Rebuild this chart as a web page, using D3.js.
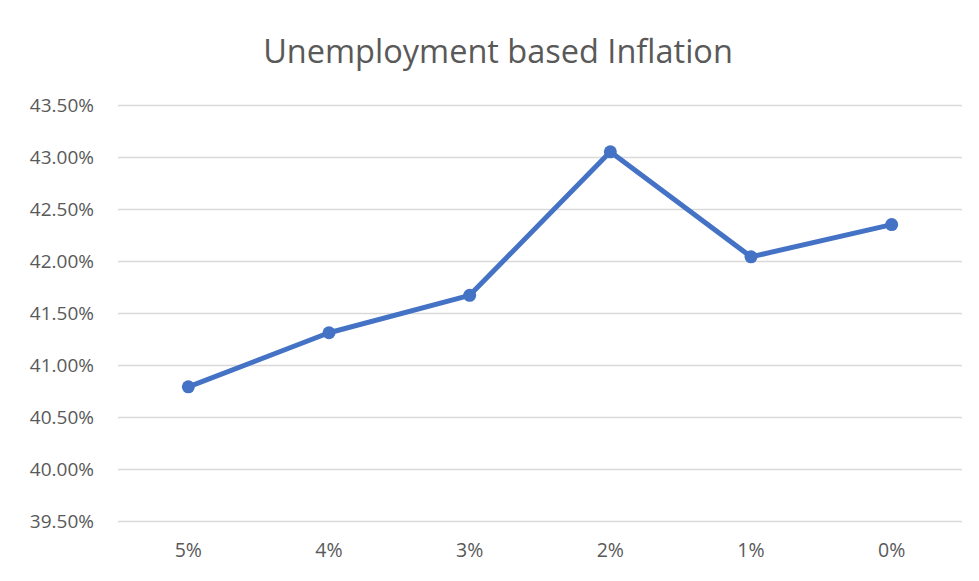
<!DOCTYPE html>
<html lang="en">
<head>
    <meta charset="UTF-8">
    <title>Unemployment based Inflation</title>
    <script src="https://cdn.jsdelivr.net/npm/d3@7/dist/d3.min.js"></script>
    <style>
        body { margin: 0; background: #fff; }
        text { font-family: "Open Sans", "Noto Sans", sans-serif; fill: #595959; }
    </style>
</head>
<body>
    <div id="chart"></div>
    <script>
        // data
        const categories = ["5%", "4%", "3%", "2%", "1%", "0%"];
        const inflation = [40.79, 41.31, 41.67, 43.05, 42.04, 42.35];
        const yTicks = [39.5, 40.0, 40.5, 41.0, 41.5, 42.0, 42.5, 43.0, 43.5];

        const width = 979, height = 581;
        const margin = { top: 105, right: 17, bottom: 60, left: 118 };

        const svg = d3.select("#chart")
            .append("svg")
            .attr("width", width)
            .attr("height", height);

        const x = d3.scaleBand()
            .domain(categories)
            .range([margin.left, width - margin.right]);

        const y = d3.scaleLinear()
            .domain([39.5, 43.5])
            .range([height - margin.bottom, margin.top]);

        // title
        svg.append("text")
            .attr("x", 498)
            .attr("y", 63)
            .attr("text-anchor", "middle")
            .style("font-size", "32.5px")
            .text("Unemployment based Inflation");

        // gridlines + y labels
        const yAxis = d3.axisLeft(y)
            .tickValues(yTicks)
            .tickSize(-(width - margin.left - margin.right))
            .tickPadding(24)
            .tickFormat(d => d.toFixed(2) + "%");

        svg.append("g")
            .attr("transform", `translate(${margin.left},0)`)
            .call(yAxis)
            .call(g => g.select(".domain").remove())
            .call(g => g.selectAll(".tick line").attr("stroke", "#d9d9d9").attr("stroke-width", 1.3))
            .call(g => g.selectAll(".tick text")
                .attr("fill", "#595959")
                .style("font-size", "19px")
                .style("font-family", "'Open Sans', sans-serif"));

        // x labels
        const xAxis = d3.axisBottom(x).tickSize(0).tickPadding(22);
        svg.append("g")
            .attr("transform", `translate(0,${height - margin.bottom})`)
            .call(xAxis)
            .call(g => g.select(".domain").remove())
            .call(g => g.selectAll(".tick text")
                .attr("fill", "#595959")
                .style("font-size", "19.5px")
                .style("font-family", "'Open Sans', sans-serif"));

        const cx = (d, i) => x(categories[i]) + x.bandwidth() / 2;

        const line = d3.line()
            .x(cx)
            .y(d => y(d));

        svg.append("path")
            .datum(inflation)
            .attr("fill", "none")
            .attr("stroke", "#4472C4")
            .attr("stroke-width", 5)
            .attr("stroke-linejoin", "round")
            .attr("d", line);

        svg.append("g")
            .selectAll("circle")
            .data(inflation)
            .enter().append("circle")
            .attr("cx", cx)
            .attr("cy", d => y(d))
            .attr("r", 6.5)
            .attr("fill", "#4472C4");
    </script>
</body>
</html>
